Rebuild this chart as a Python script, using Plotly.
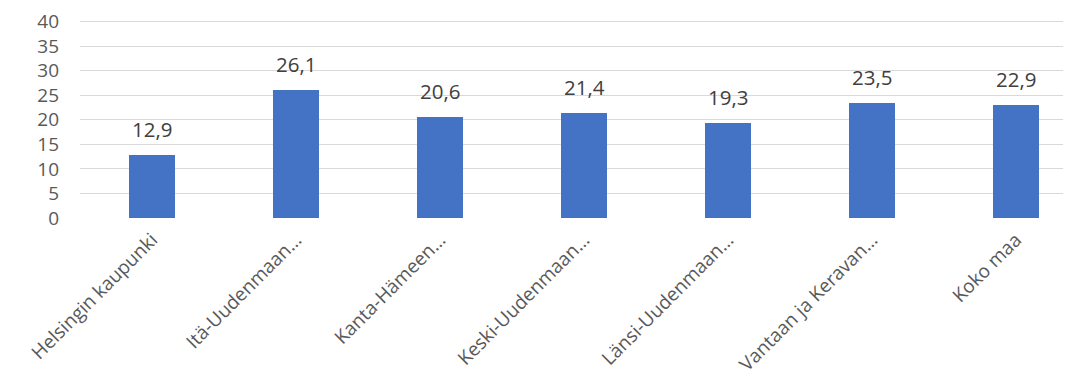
import plotly.graph_objects as go

categories = ["Helsingin kaupunki", "Itä-Uudenmaan…", "Kanta-Hämeen…", "Keski-Uudenmaan…",
              "Länsi-Uudenmaan…", "Vantaan ja Keravan…", "Koko maa"]
values = [12.9, 26.1, 20.6, 21.4, 19.3, 23.5, 22.9]
y_ticks = [0, 5, 10, 15, 20, 25, 30, 35, 40]

x_pos = list(range(len(categories)))

fig = go.Figure()
fig.add_trace(go.Bar(
    x=x_pos, y=values, width=0.315,
    marker=dict(color="#4472C4", line=dict(width=0)),
    hoverinfo="skip",
))

for xi, v in zip(x_pos, values):
    fig.add_annotation(
        x=xi, y=v, text=f"{v:.1f}".replace(".", ","),
        showarrow=False, yanchor="bottom", yshift=10,
        font=dict(family="Open Sans, Lato, sans-serif", size=20.5, color="#404040"),
    )

# page body has an 8px default margin, so the figure is sized/offset to compensate
fig.update_layout(
    width=1063, height=373,
    margin=dict(l=72, r=0, t=12, b=163, autoexpand=False),
    paper_bgcolor="white", plot_bgcolor="white",
    showlegend=False,
    bargap=0.0,
    font=dict(family="Open Sans, Lato, sans-serif", color="#595959"),
)
fig.update_xaxes(
    tickmode="array", tickvals=x_pos, ticktext=categories,
    range=[-0.5, 6.382], tickangle=-45, automargin=False,
    showgrid=False, zeroline=False, showline=False,
    tickfont=dict(size=19, color="#595959"),
    ticklabelstandoff=6,
    ticks="", fixedrange=True,
)
fig.update_yaxes(
    range=[0, 40.3], tickmode="array", tickvals=y_ticks, automargin=False,
    showgrid=True, gridcolor="#D9D9D9", gridwidth=1.3,
    zeroline=False, showline=False,
    tickfont=dict(size=19, color="#595959"),
    ticklabelstandoff=20, fixedrange=True,
)

fig.write_html("out.html")
